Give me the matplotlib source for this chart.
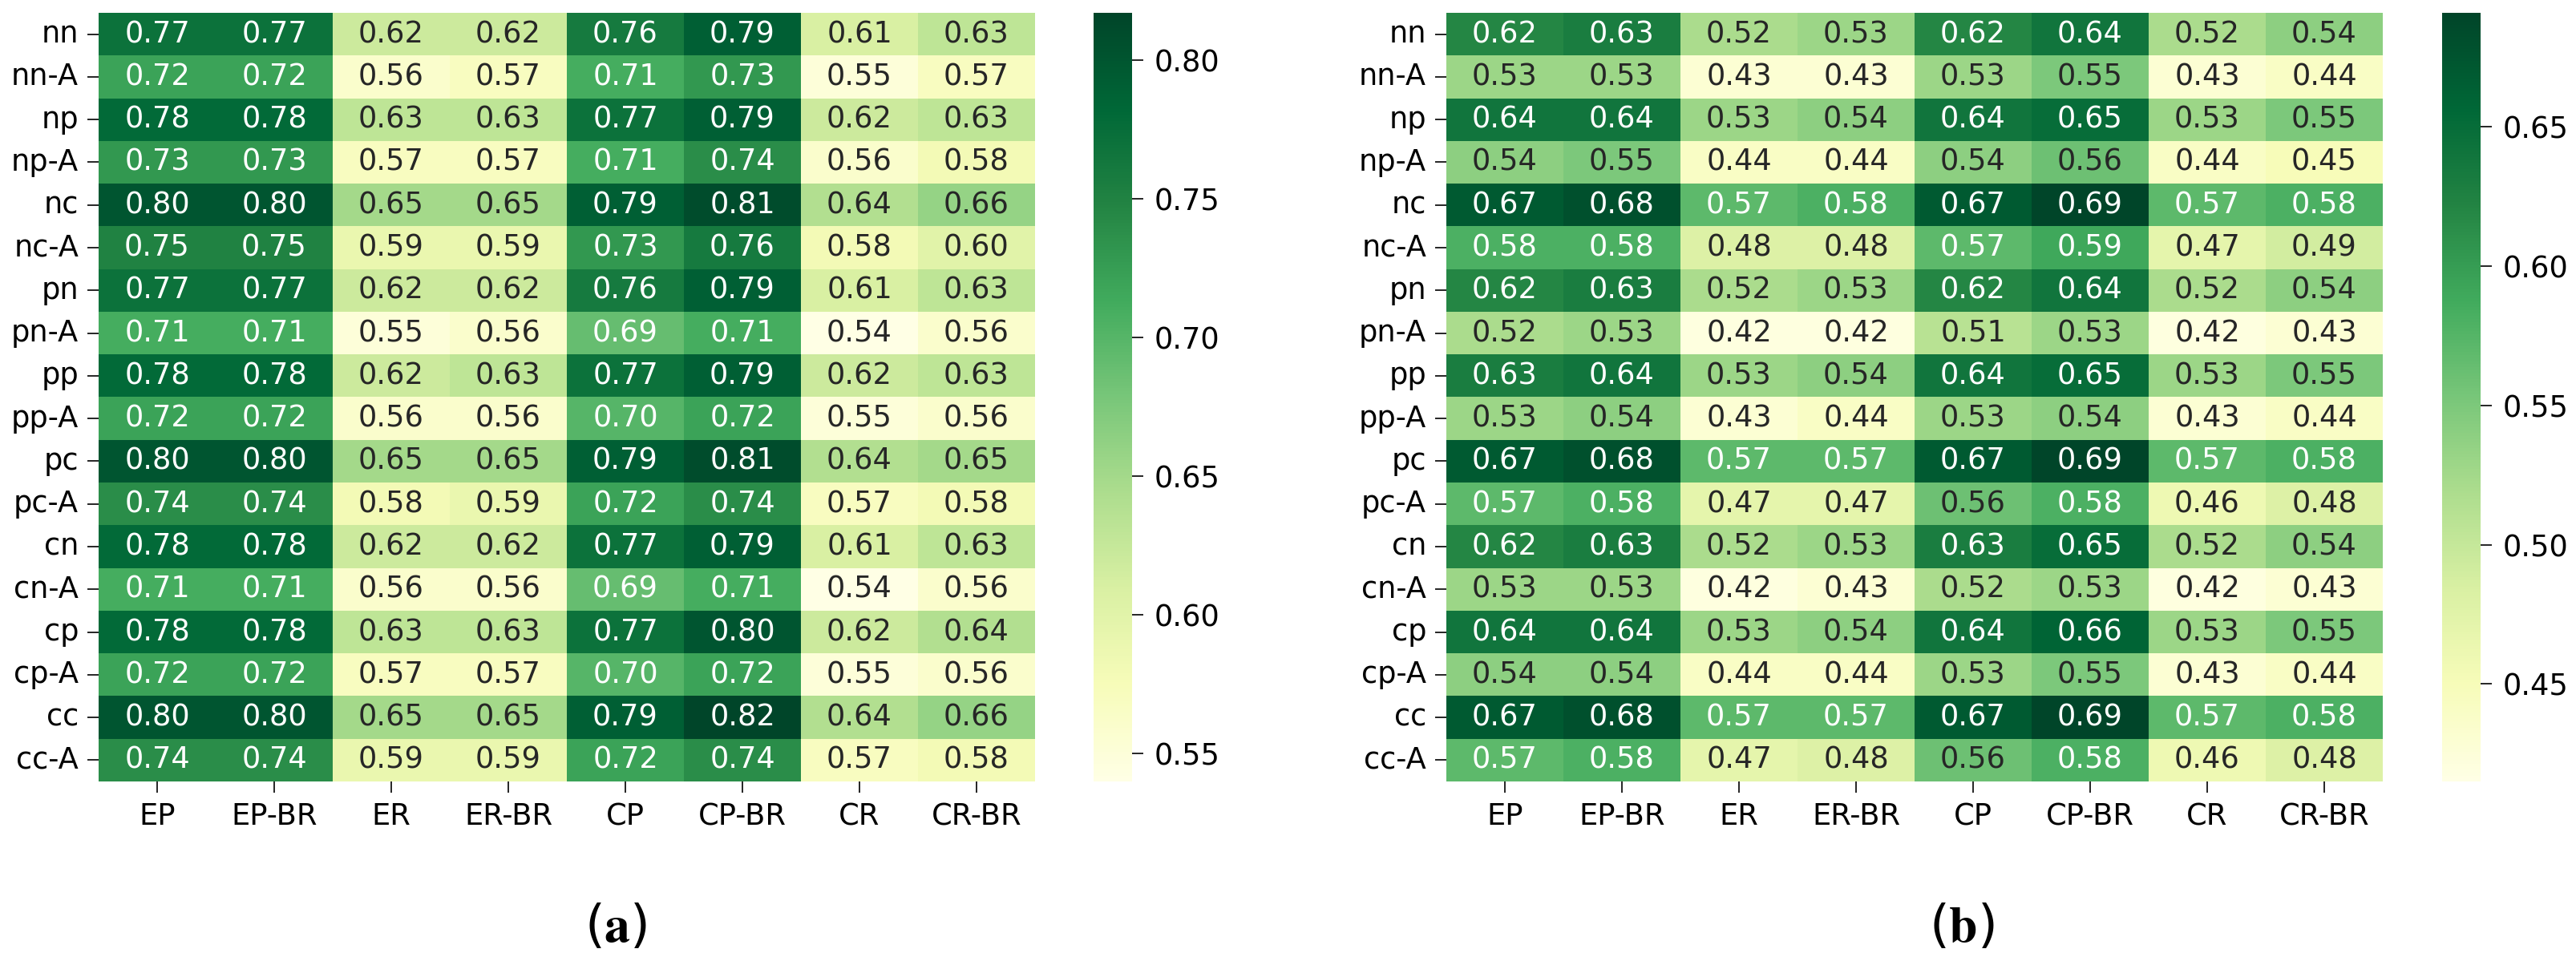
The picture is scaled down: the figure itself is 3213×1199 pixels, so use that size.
import matplotlib
matplotlib.use('agg')
import matplotlib.pyplot as plt
import numpy as np
import seaborn as sns

# data
row_labels = ["nn", "nn-A", "np", "np-A", "nc", "nc-A", "pn", "pn-A", "pp",
              "pp-A", "pc", "pc-A", "cn", "cn-A", "cp", "cp-A", "cc", "cc-A"]
col_labels = ["EP", "EP-BR", "ER", "ER-BR", "CP", "CP-BR", "CR", "CR-BR"]

vals_a = [
    [0.77, 0.77, 0.62, 0.62, 0.76, 0.79, 0.61, 0.63],
    [0.72, 0.72, 0.56, 0.57, 0.71, 0.73, 0.55, 0.57],
    [0.78, 0.78, 0.63, 0.63, 0.77, 0.79, 0.62, 0.63],
    [0.73, 0.73, 0.57, 0.57, 0.71, 0.74, 0.56, 0.58],
    [0.80, 0.80, 0.65, 0.65, 0.79, 0.81, 0.64, 0.66],
    [0.75, 0.75, 0.59, 0.59, 0.73, 0.76, 0.58, 0.60],
    [0.77, 0.77, 0.62, 0.62, 0.76, 0.79, 0.61, 0.63],
    [0.71, 0.71, 0.55, 0.56, 0.69, 0.71, 0.54, 0.56],
    [0.78, 0.78, 0.62, 0.63, 0.77, 0.79, 0.62, 0.63],
    [0.72, 0.72, 0.56, 0.56, 0.70, 0.72, 0.55, 0.56],
    [0.80, 0.80, 0.65, 0.65, 0.79, 0.81, 0.64, 0.65],
    [0.74, 0.74, 0.58, 0.59, 0.72, 0.74, 0.57, 0.58],
    [0.78, 0.78, 0.62, 0.62, 0.77, 0.79, 0.61, 0.63],
    [0.71, 0.71, 0.56, 0.56, 0.69, 0.71, 0.54, 0.56],
    [0.78, 0.78, 0.63, 0.63, 0.77, 0.80, 0.62, 0.64],
    [0.72, 0.72, 0.57, 0.57, 0.70, 0.72, 0.55, 0.56],
    [0.80, 0.80, 0.65, 0.65, 0.79, 0.82, 0.64, 0.66],
    [0.74, 0.74, 0.59, 0.59, 0.72, 0.74, 0.57, 0.58],
]

vals_b = [
    [0.62, 0.63, 0.52, 0.53, 0.62, 0.64, 0.52, 0.54],
    [0.53, 0.53, 0.43, 0.43, 0.53, 0.55, 0.43, 0.44],
    [0.64, 0.64, 0.53, 0.54, 0.64, 0.65, 0.53, 0.55],
    [0.54, 0.55, 0.44, 0.44, 0.54, 0.56, 0.44, 0.45],
    [0.67, 0.68, 0.57, 0.58, 0.67, 0.69, 0.57, 0.58],
    [0.58, 0.58, 0.48, 0.48, 0.57, 0.59, 0.47, 0.49],
    [0.62, 0.63, 0.52, 0.53, 0.62, 0.64, 0.52, 0.54],
    [0.52, 0.53, 0.42, 0.42, 0.51, 0.53, 0.42, 0.43],
    [0.63, 0.64, 0.53, 0.54, 0.64, 0.65, 0.53, 0.55],
    [0.53, 0.54, 0.43, 0.44, 0.53, 0.54, 0.43, 0.44],
    [0.67, 0.68, 0.57, 0.57, 0.67, 0.69, 0.57, 0.58],
    [0.57, 0.58, 0.47, 0.47, 0.56, 0.58, 0.46, 0.48],
    [0.62, 0.63, 0.52, 0.53, 0.63, 0.65, 0.52, 0.54],
    [0.53, 0.53, 0.42, 0.43, 0.52, 0.53, 0.42, 0.43],
    [0.64, 0.64, 0.53, 0.54, 0.64, 0.66, 0.53, 0.55],
    [0.54, 0.54, 0.44, 0.44, 0.53, 0.55, 0.43, 0.44],
    [0.67, 0.68, 0.57, 0.57, 0.67, 0.69, 0.57, 0.58],
    [0.57, 0.58, 0.47, 0.48, 0.56, 0.58, 0.46, 0.48],
]

plt.rcParams['mathtext.fontset'] = 'stix'
fs = 26.5

fig = plt.figure(figsize=(32.13, 11.99), dpi=100)

W, H = 3213.0, 1199.0
ybot = (H - 975) / H
yh = 959 / H

panels = [
    (vals_a, 123, 1364, 0.540, 0.817, r'($\mathbf{a}$)', 768),
    (vals_b, 1804, 3046, 0.415, 0.691, r'($\mathbf{b}$)', 2447),
]

for vals, hx, cx, vmin, vmax, lab, lx in panels:
    ax = fig.add_axes([hx / W, ybot, 1168 / W, yh])
    cax = fig.add_axes([cx / W, ybot, 48 / W, yh])
    sns.heatmap(np.array(vals), ax=ax, cbar_ax=cax, cmap="YlGn",
                vmin=vmin, vmax=vmax, annot=True, fmt=".2f",
                annot_kws={"fontsize": fs},
                xticklabels=col_labels, yticklabels=row_labels)
    ax.tick_params(axis='both', labelsize=fs, length=10, width=1.2, pad=8)
    ax.tick_params(axis='y', rotation=0)
    ax.tick_params(axis='x', rotation=0)
    cax.tick_params(labelsize=fs, length=10, width=1.2, pad=10)
    fig.text(lx / W, (H - 1157) / H, lab, ha='center', va='center', fontsize=46)

plt.savefig("out.png", dpi=100)
plt.close(fig)
